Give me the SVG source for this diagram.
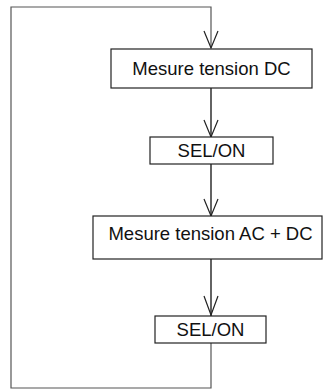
<svg xmlns="http://www.w3.org/2000/svg" width="323" height="390" viewBox="0 0 323 390">
<style>
.box{fill:#fff;stroke:#222;stroke-width:1.2}
.t{font-family:"Liberation Sans",Arial,sans-serif;font-size:18.5px;fill:#111;text-anchor:middle}
.c{fill:none;stroke:#222;stroke-width:1.4}
.loop{fill:none;stroke:#555;stroke-width:1.2}
.ah{fill:none;stroke:#222;stroke-width:1.2}
</style>
<rect width="323" height="390" fill="#fff"/>
<g id="connectors">
<polyline class="loop" points="211,343 211,388 11,388 11,7 211,7 211,48"/>
<line class="c" x1="211" y1="88" x2="211" y2="137"/>
<line class="c" x1="211" y1="164" x2="211" y2="216"/>
<line class="c" x1="211" y1="259" x2="211" y2="316"/>
<polyline class="ah" points="204,31 211,48 218,31"/>
<polyline class="ah" points="204,120 211,137 218,120"/>
<polyline class="ah" points="204,199 211,216 218,199"/>
<polyline class="ah" points="204,296 211,315 218,296"/>
</g>
<g id="n1"><rect class="box" x="111" y="49" width="201" height="39"/><text class="t" x="211.5" y="75">Mesure tension DC</text></g>
<g id="n2"><rect class="box" x="150" y="137" width="123" height="27"/><text class="t" x="211.5" y="157">SEL/ON</text></g>
<g id="n3"><rect class="box" x="93" y="216" width="229" height="43"/><text class="t" x="210.5" y="240">Mesure tension AC + DC</text></g>
<g id="n4"><rect class="box" x="155" y="316" width="111" height="27"/><text class="t" x="210.5" y="336">SEL/ON</text></g>
</svg>
